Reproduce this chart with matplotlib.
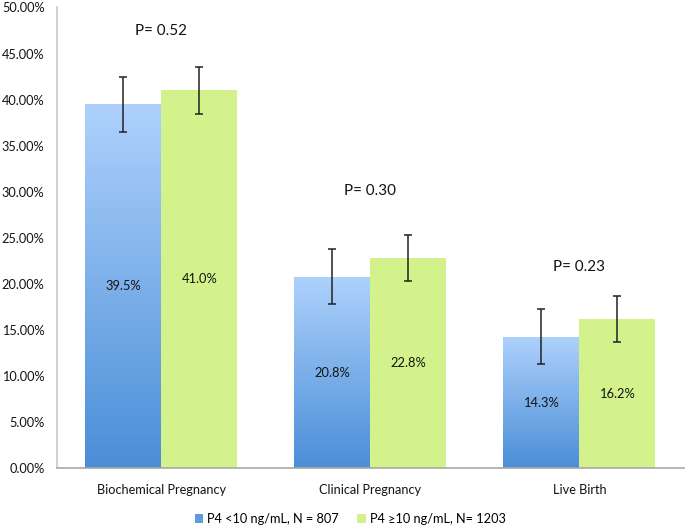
import matplotlib
matplotlib.use("Agg")
import matplotlib.pyplot as plt
import numpy as np
from matplotlib.patches import Patch
from matplotlib.colors import LinearSegmentedColormap

categories = ["Biochemical Pregnancy", "Clinical Pregnancy", "Live Birth"]
series_names = ["P4 <10 ng/mL, N = 807", "P4 \u226510 ng/mL, N= 1203"]
low_vals = [39.5, 20.8, 14.3]
high_vals = [41.0, 22.8, 16.2]
low_err = [3.0, 3.0, 3.0]
high_err = [2.5, 2.5, 2.5]
low_labels = ["39.5%", "20.8%", "14.3%"]
high_labels = ["41.0%", "22.8%", "16.2%"]
p_labels = ["P= 0.52", "P= 0.30", "P= 0.23"]
p_heights = [47.4, 30.1, 21.9]
yticks = [0, 5, 10, 15, 20, 25, 30, 35, 40, 45, 50]

plt.rcParams['font.family'] = ['Lato', 'DejaVu Sans']

fig = plt.figure(figsize=(6.85, 5.28), dpi=100)
ax = fig.add_axes([0.0832, 0.1127, 0.9153, 0.8731])

x = np.arange(len(categories))
w = 0.3636
blue_top = "#aed1fc"
blue_bot = "#4a8ed7"
green = "#d3f28b"
cmap = LinearSegmentedColormap.from_list("bg", [blue_bot, blue_top])

bars_low = ax.bar(x - w/2, low_vals, w, color=blue_top, linewidth=0, zorder=2)
bars_high = ax.bar(x + w/2, high_vals, w, color=green, linewidth=0, zorder=2)

grad = np.linspace(0, 1, 256).reshape(-1, 1)
for b in bars_low:
    x0, y0 = b.get_x(), b.get_y()
    bw, bh = b.get_width(), b.get_height()
    im = ax.imshow(grad, extent=[x0, x0 + bw, y0, y0 + bh], origin="lower",
                   cmap=cmap, aspect="auto", zorder=2.1)
    im.set_clip_path(b)

ax.errorbar(x - w/2, low_vals, yerr=low_err, fmt="none", ecolor="#222222",
            elinewidth=1.1, capsize=2.8, capthick=1.1, zorder=3)
ax.errorbar(x + w/2, high_vals, yerr=high_err, fmt="none", ecolor="#222222",
            elinewidth=1.1, capsize=2.8, capthick=1.1, zorder=3)

txt = "#141414"
for i in range(len(categories)):
    ax.text(x[i] - w/2, low_vals[i] / 2, low_labels[i], ha="center", va="center",
            fontsize=9.3, color=txt, zorder=4)
    ax.text(x[i] + w/2, high_vals[i] / 2, high_labels[i], ha="center", va="center",
            fontsize=9.3, color=txt, zorder=4)
    ax.text(x[i], p_heights[i], p_labels[i], ha="center", va="center",
            fontsize=11, color=txt, zorder=4)

ax.set_xlim(-0.5, 2.5)
ax.set_ylim(0, 50)
ax.set_yticks(yticks)
ax.set_yticklabels([f"{v:.2f}%" for v in yticks], fontsize=9.2, color=txt)
ax.set_xticks(x)
ax.set_xticklabels(categories, fontsize=9.2, color=txt)
ax.tick_params(axis="y", length=0, pad=9)
ax.tick_params(axis="x", length=0, pad=11)

for s in ["top", "right"]:
    ax.spines[s].set_visible(False)
ax.spines["left"].set_color("#c8c8c8")
ax.spines["left"].set_linewidth(1.2)
ax.spines["bottom"].set_color("#a8a8a8")
ax.spines["bottom"].set_linewidth(1.2)

handles = [Patch(facecolor="#5d9ce0", edgecolor="none"),
           Patch(facecolor=green, edgecolor="none")]
fig.legend(handles, series_names, loc="center", bbox_to_anchor=(0.511, 0.017),
           ncol=2, frameon=False, fontsize=9.2, handlelength=0.65, handleheight=0.65,
           handletextpad=0.3, columnspacing=1.5)

fig.savefig("out.png", dpi=100)
